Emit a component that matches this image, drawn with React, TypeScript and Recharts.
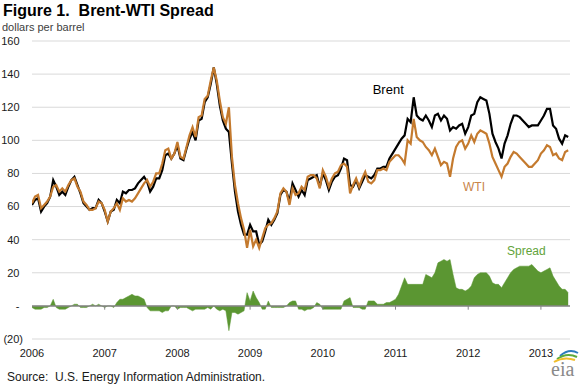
import React from 'react';
import {
  ComposedChart,
  Line,
  Area,
  XAxis,
  YAxis,
  CartesianGrid,
  ReferenceLine,
  ReferenceDot,
} from 'recharts';

// Semi-monthly samples, Jan 2006 .. mid-May 2013 (dollars per barrel)
const wti = [
  62, 66, 67, 59, 61, 63, 66, 72, 73, 69, 71, 69, 73, 76, 77, 72, 69, 63, 61, 58, 58, 59, 63, 62,
  58, 51, 57, 59, 62, 58, 65, 63, 64, 63, 65, 68, 71, 74, 76, 72, 75, 80, 80, 86, 94, 95, 89, 92,
  99, 90, 89, 96, 103, 108, 102, 114, 115, 125, 127, 136, 144, 136, 124, 114, 110, 120, 90, 73, 62, 53, 46, 35,
  46, 36, 40, 35, 41, 47, 49, 50, 53, 57, 68, 71, 69, 61, 71, 67, 68, 72, 70, 78, 79, 79, 77, 71,
  82, 78, 72, 77, 80, 81, 85, 86, 84, 68, 73, 77, 72, 77, 81, 75, 74, 76, 82, 82, 83, 82, 87, 89,
  91, 91, 89, 86, 100, 98, 113, 102, 100, 99, 96, 94, 91, 95, 90, 85, 87, 86, 78, 89, 96, 99, 100, 95,
  98, 103, 99, 104, 106, 105, 104, 98, 90, 86, 82, 78, 84, 86, 90, 93, 92, 90, 88, 86, 84, 84, 86, 88,
  92, 94, 97, 96, 91, 92, 89, 88, 93, 94,
];

const brent = [
  61, 64, 65, 57, 60, 62, 66, 76, 72, 67, 69, 67, 72, 76, 78, 73, 68, 62, 60, 58, 59, 59, 64, 62,
  57, 51, 57, 58, 64, 62, 69, 68, 70, 70, 71, 74, 76, 78, 75, 69, 72, 77, 77, 82, 91, 92, 89, 92,
  97, 89, 88, 95, 101, 105, 100, 112, 113, 123, 126, 134, 144, 134, 121, 112, 107, 105, 86, 69, 57, 49, 43, 43,
  49, 45, 45, 37, 39, 45, 52, 49, 52, 56, 67, 70, 69, 63, 74, 70, 66, 70, 67, 76, 77, 78, 79, 72,
  80, 76, 70, 75, 78, 79, 83, 89, 88, 73, 72, 76, 71, 75, 79, 78, 77, 79, 83, 83, 84, 84, 89, 92,
  95, 98, 101, 103, 113, 111, 126, 115, 113, 112, 115, 112, 108, 115, 116, 112, 115, 113, 106, 108, 107, 109, 110, 104,
  108, 115, 116, 123, 126, 125, 124, 116, 104, 99, 95, 89, 98, 103, 110, 115, 115, 114, 112, 110, 108, 109, 109, 109,
  112, 115, 119, 119, 109, 107, 101, 98, 103, 102,
];

const spread = [
  -1, -2, -2, -2, -1, -1, 0, 4, -1, -2, -2, -2, -1, 0, 1, 1, -1, -1, -1, 0, 1, 0, 1, 0,
  -1, 0, 0, -1, 2, 4, 4, 5, 6, 7, 6, 6, 5, 4, -1, -3, -3, -3, -3, -4, -3, -3, 0, 0,
  -2, -1, -1, -1, -2, -3, -2, -2, -2, -2, -1, -2, 0, -2, -3, -2, -3, -15, -4, -4, -5, -4, -3, 8,
  3, 9, 5, 2, -2, -2, 3, -1, -1, -1, -1, -1, 0, 2, 3, 3, -2, -2, -3, -2, -2, -1, 2, 1,
  -2, -2, -2, -2, -2, -2, -2, 3, 4, 5, -1, -1, -1, -2, -2, 3, 3, 3, 1, 1, 1, 2, 2, 3,
  4, 7, 12, 17, 13, 13, 13, 13, 13, 13, 19, 18, 17, 20, 26, 27, 28, 27, 28, 19, 11, 10, 10, 9,
  10, 12, 17, 19, 20, 20, 20, 18, 14, 13, 13, 11, 14, 17, 20, 22, 23, 24, 24, 24, 24, 25, 23, 21,
  20, 21, 22, 23, 18, 15, 12, 10, 10, 8,
];

const startYear = 2006;
const samplesPerYear = 24;
const dates = wti.map((_, i) => startYear + i / samplesPerYear);

const yearTicks = [2006, 2007, 2008, 2009, 2010, 2011, 2012, 2013];
const yTicks = [-20, 0, 20, 40, 60, 80, 100, 120, 140, 160];

const table = dates.map((t, i) => ({
  t,
  brent: brent[i],
  wti: wti[i],
  spread: spread[i],
}));

const FONT = '"Liberation Sans", Arial, Helvetica, sans-serif';
const WTI_COLOR = '#C47A2E';
const SPREAD_COLOR = '#5B9632';
const ZERO_COLOR = '#868686';

const fmtY = (v: number) => (v === 0 ? '-' : v < 0 ? `(${-v})` : String(v));

const YTick = (props: any) => {
  const { x, y, payload } = props;
  const v = payload.value as number;
  return (
    <text
      x={x + (v < 0 ? 3.5 : 0)}
      y={y}
      dy="0.355em"
      textAnchor="end"
      fontSize={11}
      fill="#1a1a1a"
      fontFamily={FONT}
    >
      {fmtY(v)}
    </text>
  );
};

export default function App() {
  return (
    <div
      style={{
        position: 'absolute',
        left: 0,
        top: 0,
        width: 579,
        height: 387,
        background: '#fff',
        fontFamily: FONT,
      }}
    >
      <ComposedChart
        width={579}
        height={387}
        data={table}
        margin={{ top: 41, right: 9, bottom: 18, left: 0 }}
      >
        <CartesianGrid vertical={false} stroke="#D9D9D9" strokeWidth={1} />
        <XAxis
          dataKey="t"
          type="number"
          domain={[2006, 2013.4]}
          ticks={yearTicks}
          allowDataOverflow
          axisLine={false}
          tickLine={false}
          tickSize={4}
          tickMargin={6}
          tick={{ fontSize: 11, fill: '#1a1a1a', fontFamily: FONT }}
          height={30}
        />
        <YAxis
          type="number"
          domain={[-20, 160]}
          ticks={yTicks}
          axisLine={false}
          tickLine={false}
          tickSize={4}
          tickMargin={8.5}
          tick={<YTick />}
          width={32}
          interval={0}
        />
        <Area
          type="linear"
          dataKey="spread"
          baseValue={0}
          fill={SPREAD_COLOR}
          fillOpacity={1}
          stroke={SPREAD_COLOR}
          strokeWidth={0.5}
          dot={false}
          activeDot={false}
          isAnimationActive={false}
        />
        <ReferenceLine y={0} stroke={ZERO_COLOR} strokeWidth={1.5} />
        {yearTicks.slice(1).map((yr) => (
          <ReferenceLine
            key={yr}
            segment={[
              { x: yr, y: 0 },
              { x: yr, y: -2.3 },
            ]}
            stroke={ZERO_COLOR}
            strokeWidth={1}
          />
        ))}
        <Line
          type="linear"
          dataKey="brent"
          stroke="#000000"
          strokeWidth={2.2}
          dot={false}
          activeDot={false}
          isAnimationActive={false}
        />
        <Line
          type="linear"
          dataKey="wti"
          stroke={WTI_COLOR}
          strokeWidth={2.2}
          dot={false}
          activeDot={false}
          isAnimationActive={false}
        />
        <ReferenceDot
          x={2010.9}
          y={130.8}
          r={0}
          fill="none"
          stroke="none"
          label={{ value: 'Brent', position: 'center', fill: '#000', fontSize: 13, fontFamily: FONT }}
        />
        <ReferenceDot
          x={2012.08}
          y={71.9}
          r={0}
          fill="none"
          stroke="none"
          label={{ value: 'WTI', position: 'center', fill: '#C8844A', fontSize: 12, fontFamily: FONT }}
        />
        <ReferenceDot
          x={2012.8}
          y={33.2}
          r={0}
          fill="none"
          stroke="none"
          label={{ value: 'Spread', position: 'center', fill: '#62A33A', fontSize: 12, fontFamily: FONT }}
        />
      </ComposedChart>
      <svg
        width={579}
        height={387}
        style={{ position: 'absolute', left: 0, top: 0, pointerEvents: 'none' }}
      >
        <text x={3} y={15.5} fontSize={16} fontWeight="bold" fill="#000" fontFamily={FONT} style={{ whiteSpace: 'pre' }}>
          {'Figure 1.\u00A0\u00A0Brent-WTI Spread'}
        </text>
        <text x={2} y={31} fontSize={11} fill="#404040" fontFamily={FONT}>
          dollars per barrel
        </text>
        <text x={7} y={381} fontSize={12} fill="#1a1a1a" fontFamily={FONT} style={{ whiteSpace: 'pre' }}>
          {'Source:\u00A0\u00A0U.S. Energy Information Administration.'}
        </text>
        <path d="M 560 356 Q 569 348 578 353" stroke="#2B7BBE" strokeWidth={2} fill="none" />
        <path d="M 557 359 Q 567 352 577 357" stroke="#5DAA3C" strokeWidth={2} fill="none" />
        <path d="M 554 362 Q 564 356 575 360" stroke="#F0BE2C" strokeWidth={2} fill="none" />
        <text x={551} y={376} fontSize={20} fill="#8A8A8A" fontFamily='"Liberation Serif", "DejaVu Serif", serif'>
          eia
        </text>
      </svg>
    </div>
  );
}
